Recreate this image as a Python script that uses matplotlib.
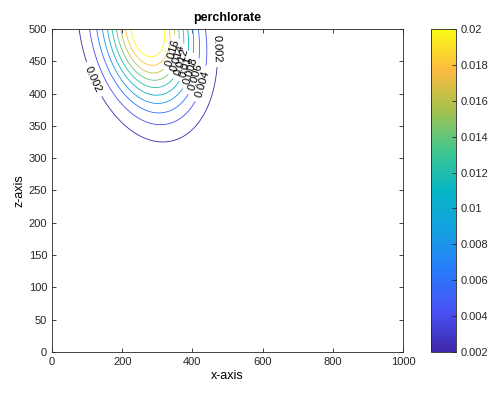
import numpy as np
import matplotlib
matplotlib.use('Agg')
import matplotlib.pyplot as plt
from matplotlib.colors import LinearSegmentedColormap, Normalize
from matplotlib.cm import ScalarMappable

plt.rcParams['font.family'] = ['Liberation Sans', 'DejaVu Sans']

# contour levels and colorbar ticks
levels = [0.002, 0.004, 0.006, 0.008, 0.010, 0.012, 0.014, 0.016, 0.018, 0.020]
cbar_ticks = [0.002, 0.004, 0.006, 0.008, 0.01, 0.012, 0.014, 0.016, 0.018, 0.02]
cbar_labels = ['0.002', '0.004', '0.006', '0.008', '0.01', '0.012', '0.014', '0.016', '0.018', '0.02']
x_ticks = [0, 200, 400, 600, 800, 1000]
z_ticks = [0, 50, 100, 150, 200, 250, 300, 350, 400, 450, 500]

# plume: source at the surface, drifting right with depth
peak_conc = 0.0232
source_x = 272.0
surface_z = 500.0
drift = 0.25
sigma_x = 88.0
depth_scale = 79.0

# parula-like colormap
parula_pts = [
    (0.242, 0.150, 0.660),
    (0.281, 0.323, 0.958),
    (0.160, 0.480, 0.980),
    (0.080, 0.630, 0.890),
    (0.030, 0.715, 0.770),
    (0.260, 0.780, 0.560),
    (0.650, 0.760, 0.300),
    (0.990, 0.730, 0.250),
    (0.977, 0.984, 0.081),
]
parula = LinearSegmentedColormap.from_list('parula', parula_pts)


def field(x, z):
    d = surface_z - z
    xc = source_x + drift * d
    return peak_conc * np.exp(-(x - xc) ** 2 / (2 * sigma_x ** 2)) * np.exp(-d ** 2 / (2 * depth_scale ** 2))


xg = np.linspace(0, 1000, 501)
zg = np.linspace(0, 500, 501)
X, Z = np.meshgrid(xg, zg)
C = field(X, Z)

fig = plt.figure(figsize=(4.93, 3.93), dpi=100)
ax = fig.add_axes([0.1055, 0.1043, 0.712, 0.822])
cax = fig.add_axes([0.874, 0.1043, 0.0507, 0.822])

norm = Normalize(vmin=0.002, vmax=0.02)
cs = ax.contour(X, Z, C, levels=levels, cmap=parula, norm=norm, linewidths=0.6)

# label positions: along a diagonal on the right flank, plus the outer line twice
t = np.linspace(0, 1, 2000)
lx = 300 + t * 140
lz = 488 - t * 80
vals = field(lx, lz)
label_pts = []
for lev in levels[1:-2]:
    i = np.argmin(np.abs(vals - lev))
    label_pts.append((lx[i], lz[i]))
label_pts.append((128, 424))
label_pts.append((460, 470))
ax.clabel(cs, levels[:-2], inline=True, fontsize=8, fmt='%g', colors='black',
          manual=label_pts)

ax.set_xlim(0, 1000)
ax.set_ylim(0, 500)
ax.set_xticks(x_ticks)
ax.set_yticks(z_ticks)
ax.tick_params(direction='in', top=True, right=True, labelsize=8, length=3,
               colors='#262626', width=0.6)
for s in ax.spines.values():
    s.set_color('#262626')
    s.set_linewidth(0.6)
ax.set_title('perchlorate', fontsize=9, fontweight='bold', pad=6)
ax.set_xlabel('x-axis', fontsize=9, labelpad=2)
ax.set_ylabel('z-axis', fontsize=9, labelpad=2)

sm = ScalarMappable(norm=norm, cmap=parula)
cb = fig.colorbar(sm, cax=cax, ticks=cbar_ticks)
cb.ax.set_yticklabels(cbar_labels)
cb.ax.tick_params(direction='in', labelsize=8, length=3, colors='#262626', width=0.6)
cb.outline.set_edgecolor('#262626')
cb.outline.set_linewidth(0.6)

fig.savefig('out.png', dpi=100)
